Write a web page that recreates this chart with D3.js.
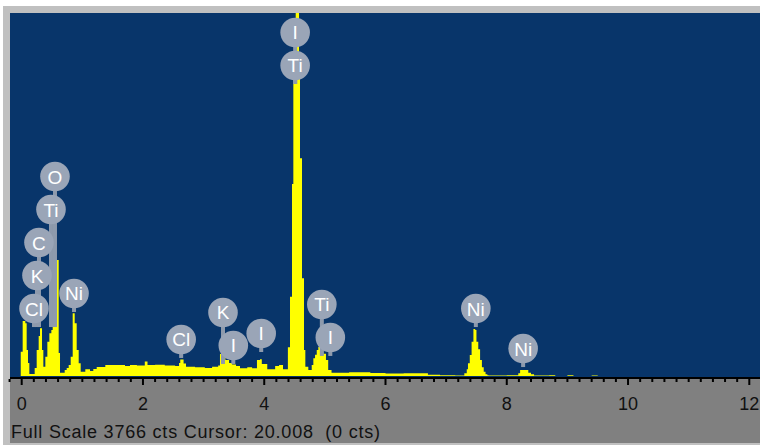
<!DOCTYPE html>
<html>
<head>
<meta charset="utf-8">
<script src="https://cdn.jsdelivr.net/npm/d3@7"></script>
<style>
  body { margin: 0; background: #fff; }
  svg { display: block; font-family: "Liberation Sans", Arial, sans-serif; }
</style>
</head>
<body>
<div id="chart"></div>
<script>
// spectrum as steps: energy where each step starts (keV) and its counts
const spectrumKeV = [
  -0.016, 0.016, 0.060, 0.082, 0.104, 0.126, 0.214, 0.247, 0.280, 0.302,
  0.335, 0.357, 0.390, 0.423, 0.456, 0.489, 0.511, 0.566, 0.610, 0.632,
  0.709, 0.742, 0.775, 0.808, 0.841, 0.874, 0.907, 0.940, 0.973, 1.049,
  1.127, 1.181, 1.237, 1.379, 1.621, 1.704, 1.786, 1.900, 2.030, 2.075,
  2.200, 2.360, 2.530, 2.595, 2.615, 2.670, 2.710, 2.860, 3.020, 3.140,
  3.240, 3.270, 3.300, 3.360, 3.420, 3.470, 3.535, 3.600, 3.720, 3.800,
  3.880, 3.930, 3.960, 4.050, 4.180, 4.245, 4.310, 4.390, 4.425, 4.458,
  4.480, 4.519, 4.574, 4.590, 4.623, 4.656, 4.678, 4.727, 4.783, 4.810,
  4.838, 4.866, 4.892, 4.935, 4.975, 5.018, 5.055, 5.110, 5.400, 5.750,
  6.000, 6.300, 6.700, 6.900, 7.150, 7.300, 7.340, 7.360, 7.390, 7.420,
  7.450, 7.480, 7.500, 7.530, 7.560, 7.590, 7.620, 7.650, 7.680, 7.700,
  7.800, 8.000, 8.190, 8.220, 8.260, 8.355, 8.400, 8.450, 8.700, 8.800,
  9.000, 9.100, 9.400, 9.500, 12.000
];
const spectrumCts = [
  252, 571, 547, 270, 135, 21, 83, 270, 415, 495,
  270, 97, 200, 356, 443, 477, 1515, 1204, 239, 35,
  62, 83, 114, 200, 650, 547, 270, 132, 45, 69,
  52, 73, 93, 114, 114, 104, 114, 110, 150, 114,
  118, 110, 104, 135, 170, 130, 97, 90, 83, 97,
  110, 228, 250, 166, 135, 120, 104, 80, 90, 80,
  166, 175, 124, 69, 104, 114, 69, 298, 823, 1992,
  3200, 3766, 3200, 2258, 1014, 270, 97, 62, 114, 183,
  220, 270, 300, 290, 230, 166, 62, 35, 38, 30,
  25, 28, 12, 8, 5, 28, 69, 132, 218, 356,
  487, 477, 356, 277, 166, 90, 45, 17, 8, 5,
  6, 8, 28, 62, 62, 35, 17, 6, 9, 0,
  8, 0, 6, 0, 0
];

// element line labels
const lineNames = ["Cl", "K", "C", "Ti", "O", "Ni", "Cl", "I", "K", "I", "Ti", "I", "I", "Ti", "Ni", "Ni"];
const lineKeV   = [0.203, 0.252, 0.285, 0.483, 0.549, 0.863, 2.63, 3.49, 3.32, 3.95, 4.51, 4.51, 5.09, 4.95, 7.49, 8.27];
const lineLevel = [0, 1, 2, 3, 4, 0, 0, 0, 1, 0, 0, 1, 0, 1, 0, 0];
const lineBase  = [508, 508, 508, 508, 508, 664, 187, 125, 125, 249, 3030, 3030, 208, 208, 508, 93];

const tickLabels = [0, 2, 4, 6, 8, 10, 12];
const fullScale = 3766;
const footer = "Full Scale 3766 cts Cursor: 20.008  (0 cts)";

const W = 760, H = 445;
const plot = { left: 10, right: 760, top: 13, bottom: 377 };

const svg = d3.select('#chart').append('svg')
  .attr('width', W).attr('height', H);

// frame
svg.append('rect').attr('x', 3).attr('y', 6).attr('width', W - 3).attr('height', H - 6).attr('fill', '#c0c0c0');
svg.append('rect').attr('x', plot.left).attr('y', plot.bottom).attr('width', W - plot.left).attr('height', H - plot.bottom - 2).attr('fill', '#808080');
svg.append('rect').attr('x', plot.left).attr('y', plot.top).attr('width', plot.right - plot.left).attr('height', plot.bottom - plot.top).attr('fill', '#08356a');

// scales
const x = d3.scaleLinear().domain([0, 12]).range([21.7, 749.3]);
const y = d3.scaleLinear().domain([0, fullScale]).range([376, plot.top]);

svg.append('clipPath').attr('id', 'clip')
  .append('rect').attr('x', plot.left).attr('y', plot.top)
  .attr('width', plot.right - plot.left).attr('height', plot.bottom - plot.top);

const spectrum = spectrumKeV.map((k, i) => ({ keV: k, cts: spectrumCts[i] }));
const area = d3.area()
  .curve(d3.curveStepAfter)
  .x(d => x(d.keV))
  .y0(y(0))
  .y1(d => y(d.cts));

svg.append('path')
  .datum(spectrum)
  .attr('clip-path', 'url(#clip)')
  .attr('fill', '#ffff00')
  .attr('d', area);

// x axis
svg.append('rect').attr('x', plot.left).attr('y', plot.bottom).attr('width', plot.right - plot.left).attr('height', 2).attr('fill', '#000');
const minor = d3.range(-1, 62).map(i => i * 0.2);
svg.append('g').selectAll('line').data(minor).enter().append('line')
  .attr('x1', d => x(d)).attr('x2', d => x(d))
  .attr('y1', plot.bottom + 2)
  .attr('y2', d => Math.abs(d / 2 - Math.round(d / 2)) < 1e-6 ? plot.bottom + 8 : plot.bottom + 5)
  .attr('stroke', '#000').attr('stroke-width', 2);
svg.append('g').selectAll('text').data(tickLabels).enter().append('text')
  .attr('x', d => x(d)).attr('y', 410)
  .attr('text-anchor', 'middle')
  .attr('font-size', 18).attr('fill', '#111')
  .text(d => d);

svg.append('text').attr('x', 11).attr('y', 438)
  .attr('font-size', 18).attr('fill', '#111')
  .attr('xml:space', 'preserve')
  .style('white-space', 'pre')
  .attr('textLength', 369).attr('lengthAdjust', 'spacing')
  .text(footer);

// element markers
const R = 14.8, STEP = 33;
const labels = lineNames.map((n, i) => ({ name: n, keV: lineKeV[i], level: lineLevel[i], base: lineBase[i] }));
const lg = svg.append('g');
labels.forEach(d => {
  const cx = x(d.keV);
  const cy = y(d.base) - 18.5 - d.level * STEP;
  lg.append('rect').attr('x', cx - 2).attr('y', cy).attr('width', 4)
    .attr('height', y(d.base) - cy).attr('fill', '#8e9aac');
});
labels.forEach(d => {
  const cx = x(d.keV);
  const cy = y(d.base) - 18.5 - d.level * STEP;
  lg.append('circle').attr('cx', cx).attr('cy', cy).attr('r', R).attr('fill', '#9aa5b7');
  lg.append('text').attr('x', cx).attr('y', cy + 7)
    .attr('text-anchor', 'middle').attr('font-size', 19)
    .attr('fill', '#fff')
    .text(d.name);
});
</script>
</body>
</html>
